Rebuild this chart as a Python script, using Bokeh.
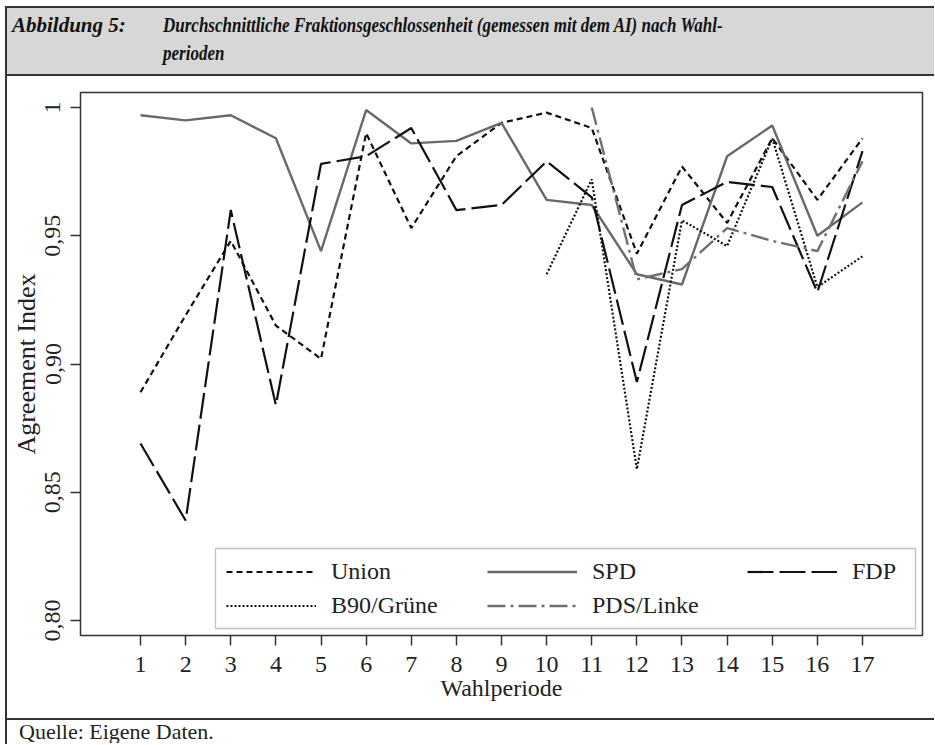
from bokeh.plotting import figure
from bokeh.models import (Range1d, FixedTicker, Legend, LegendItem, BoxAnnotation,
                          Div, Spacer)
from bokeh.layouts import row, column
from bokeh.embed import file_html
from bokeh.resources import INLINE

# ---- data ----
periods = list(range(1, 18))
union = [0.889, 0.919, 0.948, 0.915, 0.902, 0.990, 0.953, 0.981, 0.994, 0.998,
         0.992, 0.943, 0.977, 0.955, 0.988, 0.964, 0.988]
spd = [0.997, 0.995, 0.997, 0.988, 0.944, 0.999, 0.986, 0.987, 0.994, 0.964,
       0.962, 0.935, 0.931, 0.981, 0.993, 0.950, 0.963]
fdp = [0.869, 0.839, 0.960, 0.884, 0.978, 0.981, 0.992, 0.960, 0.962, 0.979,
       0.965, 0.893, 0.962, 0.971, 0.969, 0.928, 0.983]
gruene_periods = list(range(10, 18))
gruene = [0.935, 0.972, 0.859, 0.956, 0.946, 0.988, 0.930, 0.942]
linke_periods = list(range(11, 18))
linke = [1.000, 0.933, 0.937, 0.953, 0.948, 0.944, 0.979]

y_ticks = [0.80, 0.85, 0.90, 0.95, 1.0]
y_tick_labels = ["0,80", "0,85", "0,90", "0,95", "1"]

title_prefix = "Abbildung 5:"
title_line1 = "Durchschnittliche Fraktionsgeschlossenheit (gemessen mit dem AI) nach Wahl-"
title_line2 = "perioden"
source_note = "Quelle: Eigene Daten."

SERIF = "Liberation Serif"
DARK = "#333333"
TXT = "#222222"

# ---- chart ----
p = figure(width=927, height=642, output_backend="svg", toolbar_location=None,
           x_range=Range1d(-0.33, 18.33), y_range=Range1d(0.79415, 1.00585),
           min_border_left=73, min_border_right=12, min_border_top=16,
           min_border_bottom=83, margin=0)
p.background_fill_color = "white"
p.border_fill_color = "white"
p.outline_line_color = DARK
p.outline_line_width = 1.5
p.grid.visible = False

p.xaxis.ticker = FixedTicker(ticks=periods)
p.yaxis.ticker = FixedTicker(ticks=y_ticks)
p.yaxis.major_label_overrides = {t: l for t, l in zip(y_ticks, y_tick_labels)}
for ax in (p.xaxis, p.yaxis):
    ax.axis_line_color = None
    ax.major_tick_out = 10
    ax.major_tick_in = 0
    ax.minor_tick_line_color = None
    ax.major_tick_line_color = DARK
    ax.major_tick_line_width = 1.5
    ax.major_label_text_font = SERIF
    ax.major_label_text_font_size = "24px"
    ax.major_label_text_color = TXT
    ax.axis_label_text_font = SERIF
    ax.axis_label_text_font_style = "normal"
    ax.axis_label_text_color = TXT
p.xaxis.axis_label = "Wahlperiode"
p.yaxis.axis_label = "Agreement Index"
p.xaxis.axis_label_text_font_size = "24px"
p.yaxis.axis_label_text_font_size = "26px"
p.yaxis.major_label_orientation = "vertical"
p.xaxis.major_label_standoff = 11
p.xaxis.axis_label_standoff = 0
p.yaxis.major_label_standoff = 10
p.yaxis.axis_label_standoff = 2

# data lines
r_union = p.line(periods, union, line_color="#111111", line_width=2.2, line_dash="6 4")
r_spd = p.line(periods, spd, line_color="#696969", line_width=2.4)
r_fdp = p.line(periods, fdp, line_color="#111111", line_width=2.2, line_dash="26 6")
r_gruene = p.line(gruene_periods, gruene, line_color="#111111", line_width=2.2, line_dash="2 2")
r_linke = p.line(linke_periods, linke, line_color="#707070", line_width=2.4,
                 line_dash="18 5 3 5")

# legend frame (screen units, relative to the plot frame)
legend_box = BoxAnnotation(left=135, right=835, top=87, bottom=7,
                           left_units="screen", right_units="screen",
                           top_units="screen", bottom_units="screen",
                           fill_color="white", fill_alpha=1,
                           line_color=DARK, line_width=1.3)
p.add_layout(legend_box)

def mk_legend(items, x, y):
    lg = Legend(items=items, location=(x, y), orientation="vertical",
                padding=0, margin=0, spacing=7, glyph_width=90, glyph_height=27,
                label_height=27, label_standoff=15,
                label_text_font=SERIF, label_text_font_size="24px",
                label_text_color=TXT,
                background_fill_alpha=0, border_line_color=None)
    p.add_layout(lg)

mk_legend([LegendItem(label="Union", renderers=[r_union]),
           LegendItem(label="B90/Grüne", renderers=[r_gruene])], 146, 16)
mk_legend([LegendItem(label="SPD", renderers=[r_spd]),
           LegendItem(label="PDS/Linke", renderers=[r_linke])], 407, 16)
mk_legend([LegendItem(label="FDP", renderers=[r_fdp])], 667, 50)

# ---- title and source boxes ----
TFONT = ("font-family:'Liberation Serif',serif;font-style:italic;font-weight:bold;"
         "font-size:21px;line-height:1;color:#111111;white-space:nowrap;")
SPAN = '<span style="position:absolute;left:%dpx;top:%dpx;' + TFONT + '%s">%s</span>'
SQUEEZE = "transform:scaleX(0.81);transform-origin:0 0;"
title_html = (
    '<div style="position:relative;width:927px;height:66px;">'
    + SPAN % (5, 7, "", title_prefix)
    + SPAN % (156, 7, SQUEEZE, title_line1)
    + SPAN % (156, 35, SQUEEZE, title_line2)
    + '</div>'
)
title_div = Div(text=title_html, width=927, height=70, margin=0,
                styles={"background-color": "#d7d7d7",
                        "border-top": "2px solid #333333",
                        "border-bottom": "2px solid #333333",
                        "box-sizing": "border-box", "overflow": "hidden",
                        "font-family": "'Liberation Serif', serif"})

footer_html = (
    '<div style="position:relative;width:927px;height:23px;overflow:hidden;">'
    '<span style="position:absolute;left:12px;top:1px;white-space:nowrap;'
    "font-family:'Liberation Serif',serif;font-size:22px;line-height:1;color:#222222;\">"
    '%s</span></div>' % source_note
)
footer_div = Div(text=footer_html, width=927, height=25, margin=0,
                 styles={"border-top": "2px solid #333333",
                         "box-sizing": "border-box", "overflow": "hidden",
                         "font-family": "'Liberation Serif', serif"})

left_rule = Div(text="", width=2, height=738, margin=0,
                styles={"background-color": "#333333"})

layout = row(
    Spacer(width=5, height=10, margin=0),
    column(Spacer(width=2, height=6, margin=0), left_rule, spacing=0),
    column(Spacer(width=927, height=6, margin=0), title_div, p, footer_div, spacing=0),
    spacing=0,
)

open("out.html", "w").write(file_html(layout, INLINE))
